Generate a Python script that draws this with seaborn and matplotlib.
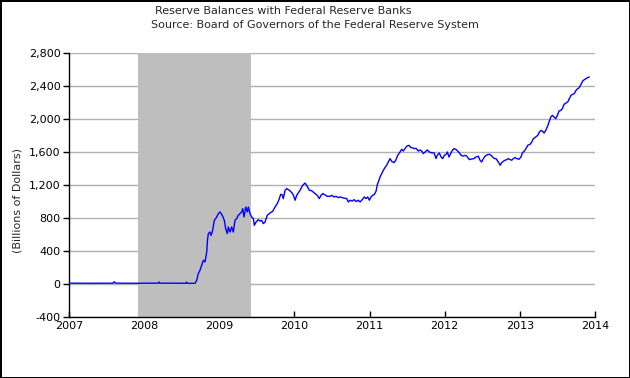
import matplotlib
matplotlib.use("Agg")
import matplotlib.pyplot as plt
import matplotlib.ticker as mticker
import seaborn as sns
import pandas as pd

# decimal year and reserve balances (billions of dollars)
year = [
    2007.00, 2007.30, 2007.59, 2007.60, 2007.62, 2007.90, 2008.19, 2008.20, 2008.21,
    2008.40, 2008.555, 2008.565, 2008.575, 2008.677,
    2008.700, 2008.721, 2008.743, 2008.766, 2008.787, 2008.810, 2008.833, 2008.843,
    2008.854, 2008.876, 2008.890, 2008.907, 2008.934, 2008.966, 2008.987, 2009.010,
    2009.040, 2009.067, 2009.085, 2009.107, 2009.120, 2009.143, 2009.165, 2009.187,
    2009.209, 2009.232, 2009.253, 2009.276, 2009.298, 2009.312, 2009.329, 2009.352,
    2009.373, 2009.386, 2009.409, 2009.431, 2009.453, 2009.466, 2009.489, 2009.519,
    2009.542, 2009.565, 2009.586, 2009.608, 2009.639, 2009.675, 2009.711, 2009.742,
    2009.772, 2009.799, 2009.817, 2009.839, 2009.852, 2009.875, 2009.897, 2009.932,
    2009.964, 2009.985, 2010.008, 2010.030, 2010.052, 2010.074, 2010.110, 2010.141,
    2010.171, 2010.198, 2010.230, 2010.274, 2010.304, 2010.331, 2010.354, 2010.376,
    2010.407, 2010.438, 2010.474, 2010.496, 2010.527, 2010.553, 2010.584, 2010.607,
    2010.651, 2010.696, 2010.717, 2010.740, 2010.770, 2010.793, 2010.820, 2010.850,
    2010.873, 2010.903, 2010.930, 2010.953, 2010.975, 2010.997, 2011.019, 2011.042,
    2011.063, 2011.086, 2011.103, 2011.116, 2011.139, 2011.162, 2011.183, 2011.205,
    2011.228, 2011.249, 2011.272, 2011.294, 2011.325, 2011.348, 2011.374, 2011.405,
    2011.428, 2011.449, 2011.472, 2011.494, 2011.525, 2011.548, 2011.569, 2011.595,
    2011.618, 2011.649, 2011.671, 2011.694, 2011.715, 2011.738, 2011.768, 2011.795,
    2011.827, 2011.858, 2011.884, 2011.901, 2011.928, 2011.951, 2011.973, 2011.995,
    2012.017, 2012.035, 2012.057, 2012.080, 2012.101, 2012.124, 2012.150, 2012.173,
    2012.194, 2012.217, 2012.247, 2012.270, 2012.293, 2012.327, 2012.359, 2012.390,
    2012.416, 2012.447, 2012.470, 2012.492, 2012.514, 2012.536, 2012.567, 2012.594,
    2012.616, 2012.639, 2012.660, 2012.683, 2012.705, 2012.727, 2012.736, 2012.758,
    2012.780, 2012.802, 2012.825, 2012.846, 2012.869, 2012.891, 2012.913, 2012.935,
    2012.958, 2012.989, 2013.015, 2013.033, 2013.059, 2013.082, 2013.104, 2013.135,
    2013.158, 2013.179, 2013.211, 2013.238, 2013.259, 2013.281, 2013.304, 2013.322,
    2013.344, 2013.365, 2013.388, 2013.411, 2013.432, 2013.455, 2013.477, 2013.499,
    2013.521, 2013.544, 2013.565, 2013.588, 2013.614, 2013.637, 2013.658, 2013.681,
    2013.703, 2013.725, 2013.747, 2013.770, 2013.791, 2013.814, 2013.837, 2013.858,
    2013.880, 2013.903, 2013.924,
]
balance = [
    10, 9, 10, 28, 10, 9, 10, 24, 10,
    9, 9, 24, 8, 8,
    45, 126, 166, 227, 287, 267, 388, 530,
    611, 630, 590, 630, 772, 812, 853, 873,
    833, 772, 671, 611, 691, 630, 691, 630,
    772, 793, 833, 853, 873, 914, 812, 933,
    873, 933, 853, 812, 793, 711, 751, 780,
    763, 770, 732, 750, 833, 861, 881, 933,
    975, 1035, 1087, 1080, 1035, 1136, 1156, 1136,
    1108, 1080, 1015, 1075, 1105, 1136, 1196, 1224,
    1184, 1136, 1130, 1096, 1075, 1035, 1075, 1096,
    1080, 1063, 1063, 1075, 1055, 1063, 1047, 1055,
    1043, 1035, 994, 1015, 1005, 1023, 1000, 1015,
    994, 1023, 1055, 1035, 1055, 1015, 1055, 1075,
    1085, 1124, 1205, 1236, 1297, 1338, 1378, 1411,
    1440, 1479, 1520, 1487, 1471, 1500, 1560, 1600,
    1633, 1612, 1641, 1670, 1681, 1655, 1650, 1641,
    1645, 1612, 1625, 1612, 1580, 1600, 1625, 1600,
    1590, 1590, 1520, 1560, 1588, 1540, 1520, 1560,
    1570, 1600, 1539, 1580, 1620, 1641, 1630, 1612,
    1590, 1560, 1550, 1560, 1550, 1508, 1515, 1520,
    1540, 1548, 1499, 1479, 1520, 1548, 1568, 1572,
    1560, 1540, 1520, 1520, 1490, 1459, 1439, 1471,
    1487, 1500, 1508, 1520, 1508, 1500, 1520, 1532,
    1520, 1512, 1540, 1588, 1612, 1641, 1681, 1693,
    1722, 1762, 1782, 1802, 1842, 1862, 1850, 1830,
    1862, 1903, 1963, 2024, 2044, 2024, 2004, 2044,
    2097, 2105, 2125, 2178, 2194, 2206, 2247, 2287,
    2299, 2308, 2348, 2368, 2381, 2420, 2461, 2477,
    2489, 2502, 2509,
]

recession = (2007.917, 2009.417)
year_ticks = [2007, 2008, 2009, 2010, 2011, 2012, 2013, 2014]
value_ticks = [-400, 0, 400, 800, 1200, 1600, 2000, 2400, 2800]

df = pd.DataFrame({"year": year, "balance": balance})

sns.set_style("white")
plt.rcParams["font.family"] = ["DejaVu Sans"]
plt.rcParams["axes.unicode_minus"] = False

fig = plt.figure(figsize=(6.3, 3.78), dpi=100)
fig.patch.set_edgecolor("black")
fig.patch.set_linewidth(2)
ax = fig.add_axes([0.1095, 0.1614, 0.835, 0.6984])

ax.axvspan(*recession, color="#BEBEBE", lw=0, zorder=1)
sns.lineplot(data=df, x="year", y="balance", ax=ax, color="#0000FF",
             linewidth=1.0, estimator=None, zorder=3)

ax.set_xlim(2007, 2014)
ax.set_ylim(-400, 2800)
ax.set_xticks(year_ticks)
ax.set_yticks(value_ticks)
ax.yaxis.set_major_formatter(mticker.StrMethodFormatter("{x:,.0f}"))
ax.set_axisbelow(True)
ax.grid(axis="y", color="#B0B0B0", linewidth=1)
ax.grid(axis="x", visible=False)
ax.spines[["top", "right"]].set_visible(False)
for s in ["left", "bottom"]:
    ax.spines[s].set_color("black")
    ax.spines[s].set_linewidth(1)
ax.tick_params(axis="y", direction="out", length=4, width=1, colors="black",
               labelsize=8, left=True, pad=2)
ax.tick_params(axis="x", direction="in", length=4, width=1, colors="black",
               labelsize=8, bottom=True, pad=3)

ax.set_xlabel("")
ax.set_ylabel("(Billions of Dollars)", fontsize=8)
ax.yaxis.set_label_coords(-0.089, 0.443)

fig.text(155 / 630, 1 - 11 / 378, "Reserve Balances with Federal Reserve Banks",
         fontsize=8, ha="left", va="center")
fig.text(151 / 630, 1 - 25 / 378, "Source: Board of Governors of the Federal Reserve System",
         fontsize=8, ha="left", va="center")

plt.savefig("out.png", dpi=100)
